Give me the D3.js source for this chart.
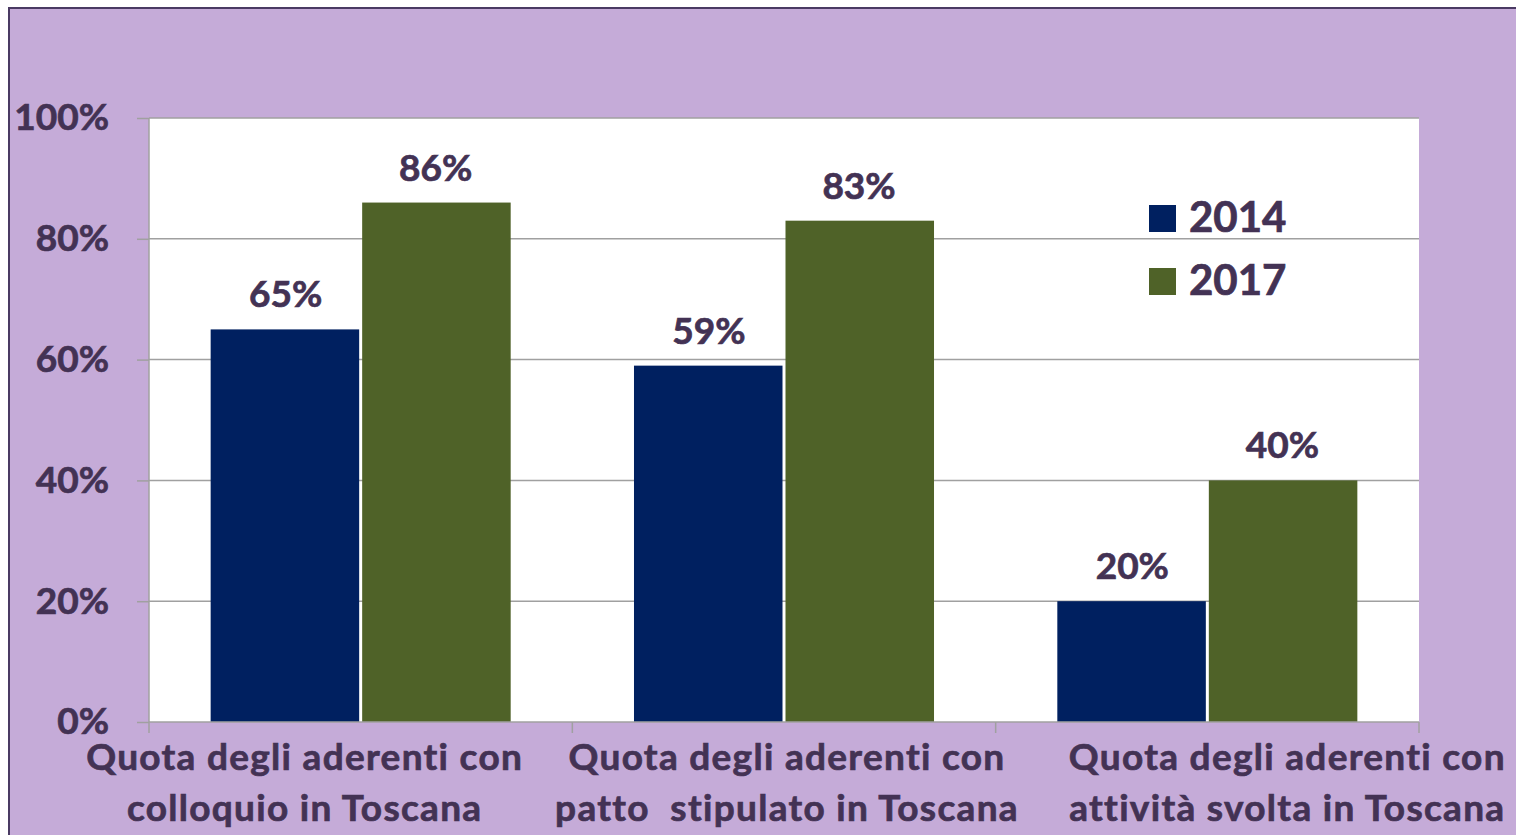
<!DOCTYPE html>
<html><head><meta charset="utf-8">
<script src="https://cdn.jsdelivr.net/npm/d3@7"></script>
<style>html,body{margin:0;padding:0;background:#fff;overflow:hidden}text{font-family:Lato,"Open Sans",sans-serif;font-weight:700;stroke:#433254;stroke-width:0.7px}</style>
</head><body>
<svg id="c" width="1516" height="835"></svg>
<script>
const categories = [
  ["Quota degli aderenti con", "colloquio in Toscana"],
  ["Quota degli aderenti con", "patto  stipulato in Toscana"],
  ["Quota degli aderenti con", "attività svolta in Toscana"]
];
const seriesNames = ["2014", "2017"];
const values2014 = [0.65, 0.59, 0.20];
const values2017 = [0.86, 0.83, 0.40];
const yTicks = [0, 0.2, 0.4, 0.6, 0.8, 1.0];

const colors = {"2014": "#002060", "2017": "#4f6228"};
const textColor = "#433254";
const svg = d3.select("#c");
const W = 1516, H = 835;
const L = 149, R = 1419, T = 118, B = 722;

svg.append("rect").attr("x", 9).attr("y", 8).attr("width", W).attr("height", H)
  .attr("fill", "#c5abd8").attr("stroke", "#4a3a63").attr("stroke-width", 2);
svg.append("rect").attr("x", L).attr("y", T).attr("width", R - L).attr("height", B - T).attr("fill", "#fff");

const idx = categories.map((d, i) => i);
const x0 = d3.scaleBand().domain(idx).range([L, R]).paddingInner(0).paddingOuter(0);
const x1 = d3.scaleBand().domain(seriesNames).range([0, x0.bandwidth()]).paddingInner(0).paddingOuter(0.411);
const y = d3.scaleLinear().domain([0, 1]).range([B, T]);

// gridlines
svg.append("g").selectAll("line").data(yTicks.slice(1)).join("line")
  .attr("x1", L).attr("x2", R).attr("y1", d => y(d)).attr("y2", d => y(d))
  .attr("stroke", "#a0a0a0").attr("stroke-width", 1.5);

// bars
const data = idx.map(i => ({i, vals: [{s: "2014", v: values2014[i]}, {s: "2017", v: values2017[i]}]}));
const g = svg.append("g").selectAll("g").data(data).join("g")
  .attr("transform", d => `translate(${x0(d.i)},0)`);
g.selectAll("rect").data(d => d.vals).join("rect")
  .attr("x", d => x1(d.s) + (d.s === "2017" ? 1.5 : 0))
  .attr("width", x1.bandwidth() - 1.5)
  .attr("y", d => y(d.v)).attr("height", d => y(0) - y(d.v))
  .attr("fill", d => colors[d.s]);
g.selectAll("text").data(d => d.vals).join("text")
  .attr("x", d => x1(d.s) + x1.bandwidth() / 2)
  .attr("y", d => y(d.v) - 22)
  .attr("text-anchor", "middle").attr("font-size", 37).attr("fill", textColor)
  .text(d => d3.format(".0%")(d.v));

// y axis
const yAxis = svg.append("g").attr("transform", `translate(${L},0)`)
  .call(d3.axisLeft(y).tickValues(yTicks).tickFormat(d3.format(".0%")).tickSize(12).tickPadding(28));
yAxis.select(".domain").attr("stroke", "#a0a0a0").attr("stroke-width", 1.5).attr("d", `M0,${T}V${B}`);
yAxis.selectAll(".tick line").attr("stroke", "#a0a0a0").attr("stroke-width", 1.5);
yAxis.selectAll(".tick text").attr("font-size", 37).attr("fill", textColor)
  .attr("font-family", "Lato").attr("font-weight", 700);

// x axis
const xb = svg.append("g");
xb.append("line").attr("x1", L).attr("x2", R).attr("y1", B).attr("y2", B)
  .attr("stroke", "#a0a0a0").attr("stroke-width", 1.5);
const bounds = idx.map(i => x0(i)).concat([x0(idx[idx.length - 1]) + x0.bandwidth()]);
xb.selectAll("line.t").data(bounds).join("line").attr("class", "t")
  .attr("x1", d => d).attr("x2", d => d).attr("y1", B).attr("y2", B + 11)
  .attr("stroke", "#a0a0a0").attr("stroke-width", 1.5);
const labelShift = [-56, 3, 80];
const cl = svg.append("g").selectAll("text").data(idx).join("text")
  .attr("text-anchor", "middle").attr("font-size", 37).attr("fill", textColor)
  .attr("letter-spacing", 1.3)
  .attr("x", i => x0(i) + x0.bandwidth() / 2 + labelShift[i]).attr("y", 770);
cl.selectAll("tspan").data(i => categories[i].map(t => ({t, i}))).join("tspan")
  .attr("x", d => x0(d.i) + x0.bandwidth() / 2 + labelShift[d.i])
  .attr("dy", (d, k) => k === 0 ? 0 : 51)
  .attr("xml:space", "preserve").style("white-space", "pre")
  .text(d => d.t);

// legend
const lg = svg.append("g").selectAll("g").data(seriesNames).join("g")
  .attr("transform", (d, k) => `translate(1149,${205 + k * 63})`);
lg.append("rect").attr("width", 27).attr("height", 27).attr("fill", d => colors[d]);
lg.append("text").attr("x", 40).attr("y", 27).attr("font-size", 42).attr("fill", textColor).text(d => d);
</script>
</body></html>
